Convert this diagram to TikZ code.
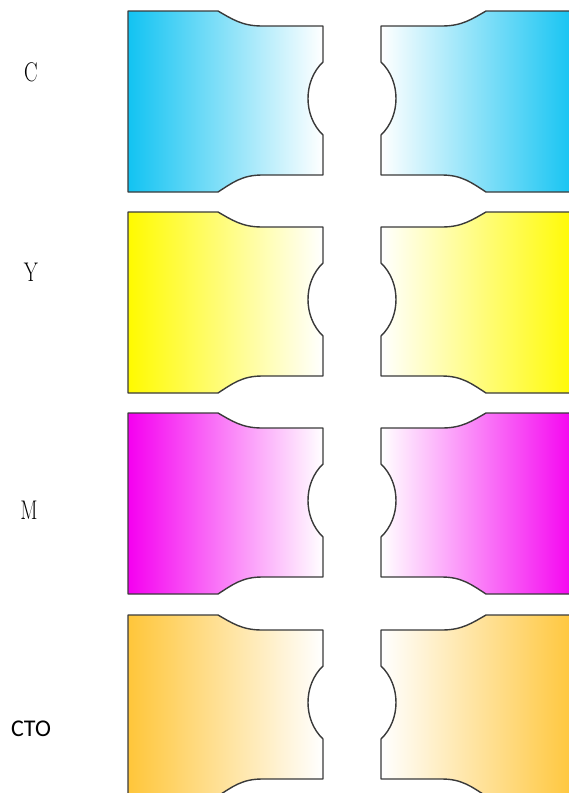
\documentclass[tikz,border=0pt]{standalone}
\usepackage{fontspec}
\newfontfamily\ctofont{Carlito}
\definecolor{inkline}{HTML}{3A3A3A}
\definecolor{cyanC}{HTML}{12C3F2}
\definecolor{yellowY}{HTML}{FFFA00}
\definecolor{magentaM}{HTML}{F500F0}
\definecolor{orangeO}{HTML}{FFC63A}
\tikzset{
  piece/.style={draw=inkline,line width=1.4pt,line join=round},
  lbl/.style={font=\fontsize{27}{27}\selectfont,text=black,inner sep=0pt},
  lblsans/.style={font=\ctofont\fontsize{24}{24}\selectfont,text=black,inner sep=0pt},
}

\begin{document}
\begin{tikzpicture}[x=1pt,y=-1pt]
  \useasboundingbox (0,0) rectangle (569,793);
  \clip (0,0) rectangle (569,793);
  % ── the four rows of pieces, left one and its mirror ──
  \foreach \t/\col in {11/cyanC,212/yellowY,413/magentaM,615/orangeO} {
    \begin{scope}[shift={(0,\t)}]
      \shade[piece,left color=\col,middle color=\col!55,right color=white]
        (128,0) -- (218,0) .. controls (232,8) and (242,15) .. (262,15) -- (323,15)
        -- (323,51) .. controls (303,70) and (303,105) .. (323,124) -- (323,164)
        -- (262,164) .. controls (242,164) and (232,172) .. (218,181) -- (128,181) -- cycle;
      \begin{scope}[shift={(704,0)},xscale=-1]
        \shade[piece,left color=white,middle color=\col!55,right color=\col]
          (128,0) -- (218,0) .. controls (232,8) and (242,15) .. (262,15) -- (323,15)
          -- (323,51) .. controls (303,70) and (303,105) .. (323,124) -- (323,164)
          -- (262,164) .. controls (242,164) and (232,172) .. (218,181) -- (128,181) -- cycle;
      \end{scope}
    \end{scope}
  }
  % ── labels ──
  \node[lbl] (labC) at (31,72) {\scalebox{.75}[1]{C}};
  \node[lbl] (labY) at (31,272) {\scalebox{.75}[1]{Y}};
  \node[lbl] (labM) at (29,510) {\scalebox{.75}[1]{M}};
  \node[lblsans] (labCTO) at (31,729) {CTO};
\end{tikzpicture}
\end{document}
